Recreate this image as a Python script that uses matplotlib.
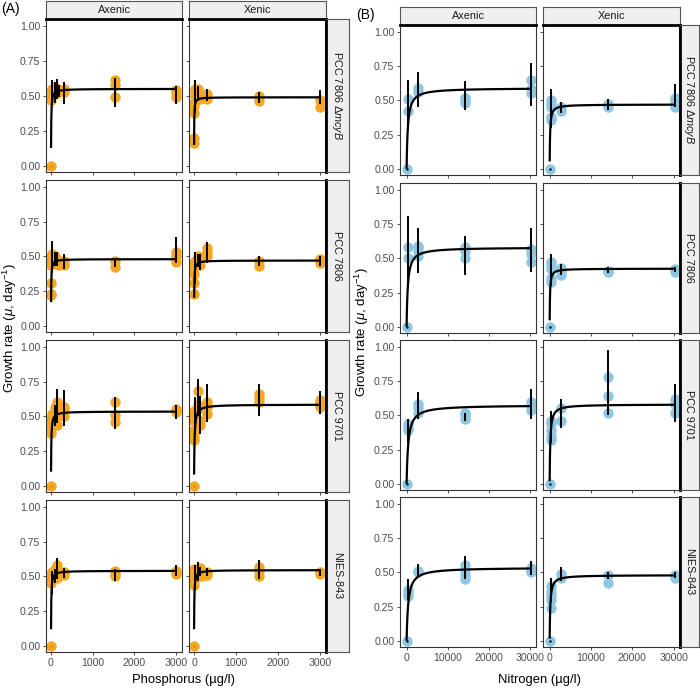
import numpy as np
import matplotlib
matplotlib.use("Agg")
import matplotlib.pyplot as plt

plt.rcParams['font.family'] = ['Liberation Sans', 'DejaVu Sans']
plt.rcParams['mathtext.fontset'] = 'custom'
plt.rcParams['mathtext.rm'] = 'Liberation Sans'
plt.rcParams['mathtext.it'] = 'Liberation Sans:italic'

W, H = 700, 689

strains = ["PCC 7806 Δ$\\mathit{mcyB}$", "PCC 7806", "PCC 9701", "NIES-843"]
treatments = ["Axenic", "Xenic"]

# ---- phosphorus (panel A) ----
P_LEVELS = [0, 5, 25, 90, 150, 200, 310, 1550, 3000]

p_mcyb_axenic = [[0.00], [0.47, 0.50, 0.53], [0.52, 0.55], [0.53, 0.56], [0.52, 0.55], [0.54],
                 [0.53, 0.55], [0.49, 0.58, 0.61], [0.49, 0.52, 0.54]]
p_mcyb_axenic_err = [None, None, (0.44, 0.61), (0.45, 0.60), (0.48, 0.62), (0.49, 0.58),
                     (0.44, 0.60), (0.42, 0.63), (0.44, 0.57)]
p_mcyb_xenic = [[0.16, 0.20], [0.38, 0.43, 0.45], [0.50, 0.53, 0.55], [0.51, 0.55], [0.48, 0.52], [],
                [0.48, 0.51], [0.46, 0.49, 0.50], [0.42, 0.47]]
p_mcyb_xenic_err = [None, None, (0.38, 0.61), (0.46, 0.57), None, None,
                    (0.46, 0.55), (0.45, 0.53), (0.44, 0.54)]

p_7806_axenic = [[0.22, 0.23], [0.31, 0.44, 0.47, 0.50], [0.47, 0.52], [0.45, 0.50], [0.48],
                 [0.44, 0.47], [0.44, 0.47], [0.42, 0.47], [0.46, 0.50, 0.53]]
p_7806_axenic_err = [None, None, (0.38, 0.61), (0.43, 0.53), (0.43, 0.53), None,
                     (0.41, 0.52), (0.42, 0.49), (0.45, 0.64)]
p_7806_xenic = [[0.23], [0.31, 0.37, 0.42, 0.45], [0.47], [0.47, 0.50], [0.44, 0.48], [],
                [0.50, 0.53, 0.56], [0.43, 0.47], [0.45, 0.48]]
p_7806_xenic_err = [None, None, (0.30, 0.53), (0.42, 0.52), (0.40, 0.52), None,
                    (0.45, 0.60), (0.43, 0.50), (0.43, 0.50)]

p_9701_axenic = [[0.00], [0.38, 0.42, 0.45, 0.48], [0.50, 0.52], [0.52, 0.57], [0.44, 0.55, 0.60],
                 [0.50, 0.58], [0.50, 0.55, 0.57], [0.46, 0.51, 0.60], [0.53, 0.55]]
p_9701_axenic_err = [None, None, None, (0.43, 0.58), (0.45, 0.70), None,
                     (0.43, 0.69), (0.41, 0.64), (0.48, 0.58)]
p_9701_xenic = [[0.00], [0.33, 0.36, 0.40, 0.47, 0.50, 0.54], [], [0.55, 0.58, 0.68], [0.44, 0.47], [],
                [0.52, 0.57, 0.60], [0.60, 0.63, 0.66], [0.57, 0.60, 0.62]]
p_9701_xenic_err = [None, None, (0.42, 0.64), (0.50, 0.77), (0.37, 0.65), None,
                    (0.46, 0.73), (0.50, 0.73), (0.52, 0.68)]

p_843_axenic = [[0.00], [0.45, 0.48, 0.50, 0.52], [0.50, 0.53], [0.50, 0.55], [0.49, 0.55, 0.58], [],
                [0.51, 0.53], [0.50, 0.52, 0.54], [0.52, 0.54]]
p_843_axenic_err = [None, None, (0.37, 0.54), (0.45, 0.55), (0.48, 0.63), None,
                    (0.49, 0.56), (0.47, 0.55), (0.50, 0.58)]
p_843_xenic = [[0.00], [0.44, 0.47, 0.50, 0.53, 0.55], [], [0.50, 0.55], [0.52, 0.56], [0.50, 0.53],
               [0.51, 0.53], [0.50, 0.54, 0.57], [0.52, 0.53]]
p_843_xenic_err = [None, None, (0.40, 0.58), (0.47, 0.60), (0.50, 0.57), None,
                   (0.50, 0.56), (0.48, 0.62), (0.50, 0.55)]

# fitted Monod parameters: rows = strains, cols = Axenic/Xenic
p_mumax = [[0.55, 0.49], [0.48, 0.47], [0.535, 0.585], [0.54, 0.545]]
p_ks = [[5, 3], [4, 4], [6, 10], [5, 5]]
p_x0 = [[1.5, 1.3], [2.2, 3.0], [1.4, 1.6], [1.4, 1.4]]

# ---- nitrogen (panel B) ----
N_LEVELS = [0, 400, 2800, 14200, 30400]

n_mcyb_axenic = [[0.00], [0.42, 0.51], [0.56, 0.59], [0.48, 0.50, 0.52], [0.55, 0.58, 0.65]]
n_mcyb_axenic_err = [None, (0.28, 0.65), (0.45, 0.71), (0.43, 0.64), (0.46, 0.77)]
n_mcyb_xenic = [[0.00], [0.36, 0.38, 0.45, 0.47, 0.50], [0.42, 0.45], [0.45, 0.47], [0.45, 0.48, 0.50, 0.52]]
n_mcyb_xenic_err = [None, (0.30, 0.58), (0.41, 0.49), (0.43, 0.51), (0.45, 0.62)]

n_7806_axenic = [[0.00], [0.50, 0.58], [0.52, 0.55, 0.58, 0.59], [0.50, 0.55, 0.58], [0.47, 0.53, 0.57]]
n_7806_axenic_err = [None, (0.30, 0.81), (0.39, 0.72), (0.38, 0.66), (0.40, 0.72)]
n_7806_xenic = [[0.00], [0.33, 0.36, 0.42, 0.45, 0.47], [0.38, 0.41, 0.43], [0.40, 0.41], [0.40, 0.42]]
n_7806_xenic_err = [None, (0.30, 0.53), (0.38, 0.46), (0.39, 0.44), (0.40, 0.44)]

n_9701_axenic = [[0.00], [0.39, 0.41, 0.44], [0.52, 0.55, 0.58], [0.47, 0.50, 0.52], [0.54, 0.57, 0.60]]
n_9701_axenic_err = [None, (0.30, 0.47), (0.47, 0.67), (0.46, 0.52), (0.47, 0.69)]
n_9701_xenic = [[0.00], [0.32, 0.35, 0.39, 0.44, 0.46], [0.46, 0.55], [0.52, 0.64, 0.78], [0.52, 0.58, 0.62]]
n_9701_xenic_err = [None, (0.30, 0.53), (0.41, 0.62), (0.50, 0.98), (0.45, 0.73)]

n_843_axenic = [[0.00], [0.33, 0.35, 0.37], [0.50, 0.51], [0.45, 0.48, 0.52, 0.55], [0.50, 0.52, 0.53]]
n_843_axenic_err = [None, (0.30, 0.45), (0.47, 0.56), (0.45, 0.62), (0.48, 0.58)]
n_843_xenic = [[0.00], [0.24, 0.30, 0.33, 0.36, 0.40], [0.46, 0.49], [0.42, 0.48], [0.46, 0.48]]
n_843_xenic_err = [None, (0.28, 0.46), (0.44, 0.54), (0.45, 0.50), (0.46, 0.50)]

n_mumax = [[0.59, 0.47], [0.58, 0.425], [0.575, 0.58], [0.535, 0.48]]
n_ks = [[300, 100], [300, 80], [400, 150], [400, 150]]
n_x0 = [[0, 13], [0, 10], [0, 5], [0, 5]]

p_reps = [[p_mcyb_axenic, p_mcyb_xenic], [p_7806_axenic, p_7806_xenic],
          [p_9701_axenic, p_9701_xenic], [p_843_axenic, p_843_xenic]]
p_errs = [[p_mcyb_axenic_err, p_mcyb_xenic_err], [p_7806_axenic_err, p_7806_xenic_err],
          [p_9701_axenic_err, p_9701_xenic_err], [p_843_axenic_err, p_843_xenic_err]]
n_reps = [[n_mcyb_axenic, n_mcyb_xenic], [n_7806_axenic, n_7806_xenic],
          [n_9701_axenic, n_9701_xenic], [n_843_axenic, n_843_xenic]]
n_errs = [[n_mcyb_axenic_err, n_mcyb_xenic_err], [n_7806_axenic_err, n_7806_xenic_err],
          [n_9701_axenic_err, n_9701_xenic_err], [n_843_axenic_err, n_843_xenic_err]]

ORANGE = '#F5A623'
BLUE = '#8DC7E3'
GREY_TXT = '#4D4D4D'
EDGE = '#333333'


def rect(x1, y1, x2, y2):
    return [x1 / W, 1 - y2 / H, (x2 - x1) / W, (y2 - y1) / H]


def draw_facet(ax, levels, reps, errs, mumax, ks, x0, xmax, color, dot):
    xs = [lv for lv, r in zip(levels, reps) for _ in r]
    ys = [v for r in reps for v in r]
    ax.plot(xs, ys, 'o', ms=7.5, color=color, mec='none', zorder=2)
    if 0.0 in reps[0]:
        ax.plot([0], [0], 'o', ms=1.8, color=dot, mec='none', zorder=5)
    for lv, e in zip(levels, errs):
        if e is not None:
            ax.vlines(lv, e[0], e[1], color='black', lw=1.4, zorder=3)
    cx = np.unique(np.concatenate([np.linspace(x0, xmax, 1500),
                                   np.geomspace(max(x0, 1e-3), xmax, 600)]))
    ax.plot(cx, mumax * cx / (ks + cx), color='black', lw=1.6, zorder=4,
            solid_capstyle='butt')


def style_ax(ax):
    for s in ax.spines.values():
        s.set_color(EDGE)
        s.set_linewidth(0.8)
    ax.tick_params(length=2.5, width=0.6, color=EDGE, labelsize=7.6,
                   labelcolor=GREY_TXT, pad=1.5)


def strip(fig, r, text, rotation):
    sa = fig.add_axes(r)
    sa.set_facecolor('#EFEFEF')
    sa.set_xticks([])
    sa.set_yticks([])
    for s in sa.spines.values():
        s.set_color('#555555')
        s.set_linewidth(0.8)
    sa.text(0.5, 0.5, text, transform=sa.transAxes, ha='center', va='center',
            rotation=rotation, fontsize=7.8, color='#1A1A1A')
    return sa


def draw_panel(fig, cols, rows, strip_x, top_y, levels, reps, errs, mumax, ks, x0,
               xlim, xticks, xmax, color, dot):
    for i, (y1, y2) in enumerate(rows):
        for j, (x1, x2) in enumerate(cols):
            ax = fig.add_axes(rect(x1, y1, x2, y2))
            draw_facet(ax, levels, reps[i][j], errs[i][j], mumax[i][j], ks[i][j], x0[i][j],
                       xmax, color, dot)
            ax.set_xlim(*xlim)
            ax.set_ylim(-0.045, 1.05)
            style_ax(ax)
            ax.set_yticks([0, 0.25, 0.5, 0.75, 1.0])
            ax.set_xticks(xticks)
            if j == 0:
                ax.set_yticklabels(['0.00', '0.25', '0.50', '0.75', '1.00'])
            else:
                ax.set_yticklabels([])
                ax.spines['right'].set_color('black')
                ax.spines['right'].set_linewidth(2.0)
            if i == len(rows) - 1:
                ax.set_xticklabels([str(t) for t in xticks])
            else:
                ax.set_xticklabels([])
            if i == 0:
                sa = strip(fig, rect(x1, top_y, x2, y1), treatments[j], 0)
                sa.spines['bottom'].set_color('black')
                sa.spines['bottom'].set_linewidth(2.0)
        sa = strip(fig, rect(strip_x[0], y1, strip_x[1], y2), strains[i], -90)
        sa.spines['left'].set_color('black')
        sa.spines['left'].set_linewidth(2.0)


fig = plt.figure(figsize=(W / 100, H / 100), dpi=100)

draw_panel(fig, [(46, 182), (189, 326)], [(19, 172), (180, 332), (340, 492), (500, 652)],
           (326, 349), 1, P_LEVELS, p_reps, p_errs, p_mumax, p_ks, p_x0,
           (-120, 3150), [0, 1000, 2000, 3000], 3000, ORANGE, '#D98C00')
draw_panel(fig, [(400, 536), (543, 680)], [(25, 175), (183, 333), (340, 490), (497, 647)],
           (680, 699), 7, N_LEVELS, n_reps, n_errs, n_mumax, n_ks, n_x0,
           (-1600, 31500), [0, 10000, 20000, 30000], 30400, BLUE, '#111111')

ylab = 'Growth rate ($\\mu$, day$^{-1}$)'
fig.text(10 / W, 1 - 328 / H, ylab, rotation=90, ha='center', va='center', fontsize=9.5)
fig.text(362 / W, 1 - 332 / H, ylab, rotation=90, ha='center', va='center', fontsize=9.5)
fig.text(184 / W, 1 - 680 / H, 'Phosphorus (µg/l)', ha='center', va='center', fontsize=9.4)
fig.text(539 / W, 1 - 680 / H, 'Nitrogen (µg/l)', ha='center', va='center', fontsize=9.4)
fig.text(1 / W, 1 - 9 / H, '(A)', ha='left', va='center', fontsize=10)
fig.text(356 / W, 1 - 15 / H, '(B)', ha='left', va='center', fontsize=10)

fig.savefig('out.png', dpi=100)
